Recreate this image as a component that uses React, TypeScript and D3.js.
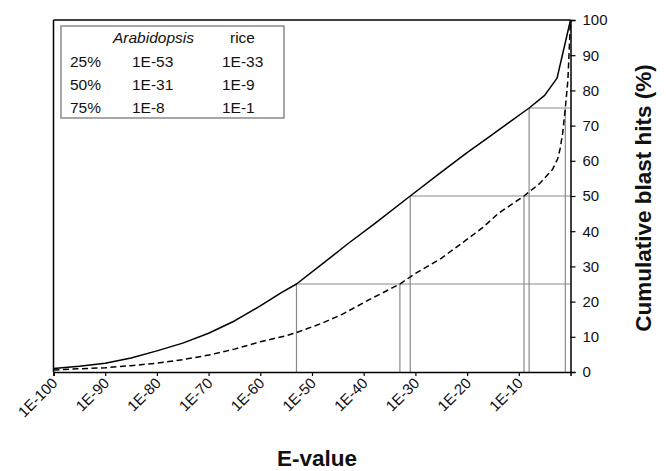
import { useEffect, useRef } from 'react'
import * as d3 from 'd3'

const WIDTH = 666
const HEIGHT = 471
const MARGIN = { top: 20, right: 95.5, bottom: 99, left: 53.5 }
const FONT = 'Liberation Sans, Arial, sans-serif'

// E-value exponent (1E-x) -> cumulative % of blast hits
const ARAB_EXP = [-100, -95, -90, -85, -80, -75, -70, -65, -60, -56, -53, -48, -43, -38, -31, -25, -20, -16, -12, -8, -5, -2.6, 0]
const ARAB_PCT = [1.0, 1.6, 2.5, 4.0, 6.0, 8.2, 11.0, 14.5, 18.8, 22.5, 25, 30.7, 36.5, 42, 50, 56.8, 62.3, 66.5, 70.8, 75, 78.6, 83.5, 100]

const RICE_EXP = [-100, -95, -90, -85, -80, -75, -70, -65, -60, -55, -53, -48, -44, -39, -33, -30, -25, -21, -17, -14, -9, -6, -3.5, -2.5, -2, -1.5, -1, -0.5, 0]
const RICE_PCT = [0.6, 0.9, 1.2, 1.8, 2.5, 3.5, 4.8, 6.5, 8.6, 10.3, 11.2, 13.9, 16.5, 20.5, 25, 28, 32.3, 36.6, 41, 45, 50, 53.5, 57.5, 60.5, 63.5, 68, 75, 83, 100]

// quartiles table
const QUARTILES = [25, 50, 75]
const ARAB_AT = [-53, -31, -8]
const RICE_AT = [-33, -9, -1]

const X_TICKS = [-100, -90, -80, -70, -60, -50, -40, -30, -20, -10]
const Y_TICKS = [0, 10, 20, 30, 40, 50, 60, 70, 80, 90, 100]

const fmtE = (e: number) => `1E${e}`

export default function App() {
  const svgRef = useRef<SVGSVGElement>(null)

  useEffect(() => {
    document.body.style.margin = '0'
    if (!svgRef.current) return

    const innerW = WIDTH - MARGIN.left - MARGIN.right
    const innerH = HEIGHT - MARGIN.top - MARGIN.bottom

    const x = d3.scaleLinear().domain([-100, 0]).range([0, innerW])
    const y = d3.scaleLinear().domain([0, 100]).range([innerH, 0])

    const svg = d3.select(svgRef.current)
    svg.selectAll('*').remove()
    const g = svg.append('g').attr('transform', `translate(${MARGIN.left},${MARGIN.top})`)

    // quartile guide lines
    const guides = g.append('g').attr('stroke', '#8a8a8a').attr('stroke-width', 1.2)
    QUARTILES.forEach((q, i) => {
      const left = Math.min(ARAB_AT[i], RICE_AT[i])
      guides.append('line')
        .attr('x1', x(left)).attr('x2', x(0))
        .attr('y1', y(q)).attr('y2', y(q))
      ;[ARAB_AT[i], RICE_AT[i]].forEach((e) => {
        guides.append('line')
          .attr('x1', x(e)).attr('x2', x(e))
          .attr('y1', y(0)).attr('y2', y(q))
      })
    })

    const line = d3.line<[number, number]>()
      .x((d) => x(d[0]))
      .y((d) => y(d[1]))

    g.append('path')
      .datum(ARAB_EXP.map((e, i) => [e, ARAB_PCT[i]] as [number, number]))
      .attr('d', line)
      .attr('fill', 'none')
      .attr('stroke', '#000')
      .attr('stroke-width', 1.5)
      .attr('stroke-linejoin', 'round')

    g.append('path')
      .datum(RICE_EXP.map((e, i) => [e, RICE_PCT[i]] as [number, number]))
      .attr('d', line)
      .attr('fill', 'none')
      .attr('stroke', '#000')
      .attr('stroke-width', 1.5)
      .attr('stroke-dasharray', '6 3.5')

    // frame: top + left
    g.append('line').attr('x1', 0).attr('x2', innerW).attr('y1', 0).attr('y2', 0)
      .attr('stroke', '#000').attr('stroke-width', 1.5)
    g.append('line').attr('x1', 0).attr('x2', 0).attr('y1', 0).attr('y2', innerH)
      .attr('stroke', '#000').attr('stroke-width', 1.5)

    // bottom axis
    const xAxis = d3.axisBottom(x).tickValues(X_TICKS).tickSize(4).tickFormat(() => '')
    g.append('g')
      .attr('transform', `translate(0,${innerH})`)
      .call(xAxis)
      .call((a) => {
        a.select('.domain').attr('stroke', '#000').attr('stroke-width', 1.5)
        a.selectAll('.tick line').attr('stroke', '#000').attr('stroke-width', 1.2)
      })
    g.append('g')
      .selectAll('text')
      .data(X_TICKS)
      .join('text')
      .attr('transform', (d) => `translate(${x(d) + 5},${innerH + 12}) rotate(-45)`)
      .attr('text-anchor', 'end')
      .attr('font-family', FONT)
      .attr('font-size', 15)
      .attr('fill', '#111')
      .text((d) => fmtE(d))

    // right axis
    const yAxis = d3.axisRight(y).tickValues(Y_TICKS).tickSize(5).tickPadding(7)
    g.append('g')
      .attr('transform', `translate(${innerW},0)`)
      .call(yAxis)
      .call((a) => {
        a.select('.domain').attr('stroke', '#000').attr('stroke-width', 1.5)
        a.selectAll('.tick line').attr('stroke', '#000').attr('stroke-width', 1.2)
        a.selectAll('.tick text')
          .attr('fill', '#111')
          .attr('font-size', 15)
          .attr('font-family', FONT)
      })

    // axis titles
    svg.append('text')
      .attr('x', 317)
      .attr('y', 466)
      .attr('text-anchor', 'middle')
      .attr('font-family', FONT)
      .attr('font-weight', 'bold')
      .attr('font-size', 22.5)
      .attr('fill', '#111')
      .text('E-value')

    svg.append('text')
      .attr('transform', 'translate(651,198) rotate(-90)')
      .attr('text-anchor', 'middle')
      .attr('font-family', FONT)
      .attr('font-weight', 'bold')
      .attr('font-size', 22.5)
      .attr('fill', '#111')
      .text('Cumulative blast hits (%)')

    // quartile table
    const tbl = svg.append('g').attr('font-family', FONT).attr('font-size', 15.5).attr('fill', '#111')
    tbl.append('rect')
      .attr('x', 61).attr('y', 26).attr('width', 223).attr('height', 92)
      .attr('fill', '#fff').attr('stroke', '#8a8a8a').attr('stroke-width', 1.5)
    tbl.append('text').attr('x', 113).attr('y', 43).attr('font-style', 'italic').text('Arabidopsis')
    tbl.append('text').attr('x', 230).attr('y', 43).text('rice')
    QUARTILES.forEach((q, i) => {
      const by = 67 + i * 23
      tbl.append('text').attr('x', 70).attr('y', by).text(`${q}%`)
      tbl.append('text').attr('x', 132).attr('y', by).text(fmtE(ARAB_AT[i]))
      tbl.append('text').attr('x', 222).attr('y', by).text(fmtE(RICE_AT[i]))
    })
  }, [])

  return <svg ref={svgRef} width={WIDTH} height={HEIGHT} style={{ display: 'block', background: '#fff' }} />
}
